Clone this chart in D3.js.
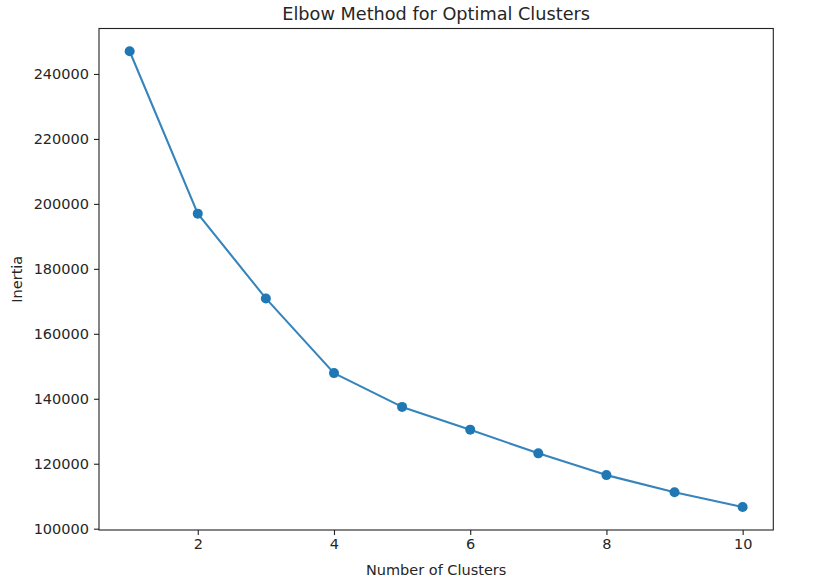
<!DOCTYPE html>
<html>
<head>
<meta charset="utf-8">
<script src="https://cdn.jsdelivr.net/npm/d3@7"></script>
<style>
html,body{margin:0;padding:0;background:#fff;}
text{font-family:"DejaVu Sans",sans-serif;fill:#262626;}
</style>
</head>
<body>
<svg id="chart" width="835" height="587"></svg>
<script>
const clusters = [1,2,3,4,5,6,7,8,9,10];
const inertia = [247000,197000,170900,147900,137500,130500,123200,116500,111200,106700];
const xTicks = [2,4,6,8,10];
const yTicks = [100000,120000,140000,160000,180000,200000,220000,240000];
const title = "Elbow Method for Optimal Clusters";
const xLabel = "Number of Clusters";
const yLabel = "Inertia";

const svg = d3.select("#chart");
const m = {left:99, right:773.3, top:28.5, bottom:530};
const x = d3.scaleLinear().domain([0.55,10.45]).range([m.left,m.right]);
const y = d3.scaleLinear().domain([99600,254000]).range([m.bottom,m.top]);

const color = "#1f77b4";
const fs = 14.5;

const xa = svg.append("g").attr("transform",`translate(0,${m.bottom})`)
  .call(d3.axisBottom(x).tickValues(xTicks).tickSize(5).tickPadding(4).tickFormat(d3.format("d")));
xa.select(".domain").remove();
xa.selectAll("line").attr("stroke","#222").attr("stroke-width",1.1);
xa.selectAll("text").style("font-size",fs+"px").style("fill","#262626").attr("font-family","DejaVu Sans");

const ya = svg.append("g").attr("transform",`translate(${m.left},0)`)
  .call(d3.axisLeft(y).tickValues(yTicks).tickSize(5).tickPadding(5).tickFormat(d3.format("d")));
ya.select(".domain").remove();
ya.selectAll("line").attr("stroke","#222").attr("stroke-width",1.1);
ya.selectAll("text").style("font-size",fs+"px").style("fill","#262626").attr("font-family","DejaVu Sans");

const line = d3.line().x((d,i)=>x(clusters[i])).y(d=>y(d));
svg.append("path").datum(inertia).attr("d",line).attr("fill","none")
  .attr("stroke",color).attr("stroke-width",2.1).attr("stroke-opacity",0.9).attr("stroke-linejoin","round").attr("stroke-linecap","square");
svg.selectAll("circle.pt").data(inertia).enter().append("circle").attr("class","pt")
  .attr("cx",(d,i)=>x(clusters[i])).attr("cy",d=>y(d)).attr("r",5).attr("fill",color);

svg.append("rect").attr("x",m.left).attr("y",m.top).attr("width",m.right-m.left).attr("height",m.bottom-m.top)
  .attr("fill","none").attr("stroke","#222").attr("stroke-width",1.1);

svg.append("text").attr("x",(m.left+m.right)/2).attr("y",20).attr("text-anchor","middle")
  .style("font-size","17.7px").text(title);
svg.append("text").attr("x",(m.left+m.right)/2).attr("y",575).attr("text-anchor","middle")
  .style("font-size",fs+"px").text(xLabel);
svg.append("text").attr("transform",`translate(22,${(m.top+m.bottom)/2}) rotate(-90)`).attr("text-anchor","middle")
  .style("font-size",fs+"px").text(yLabel);
</script>
</body>
</html>
